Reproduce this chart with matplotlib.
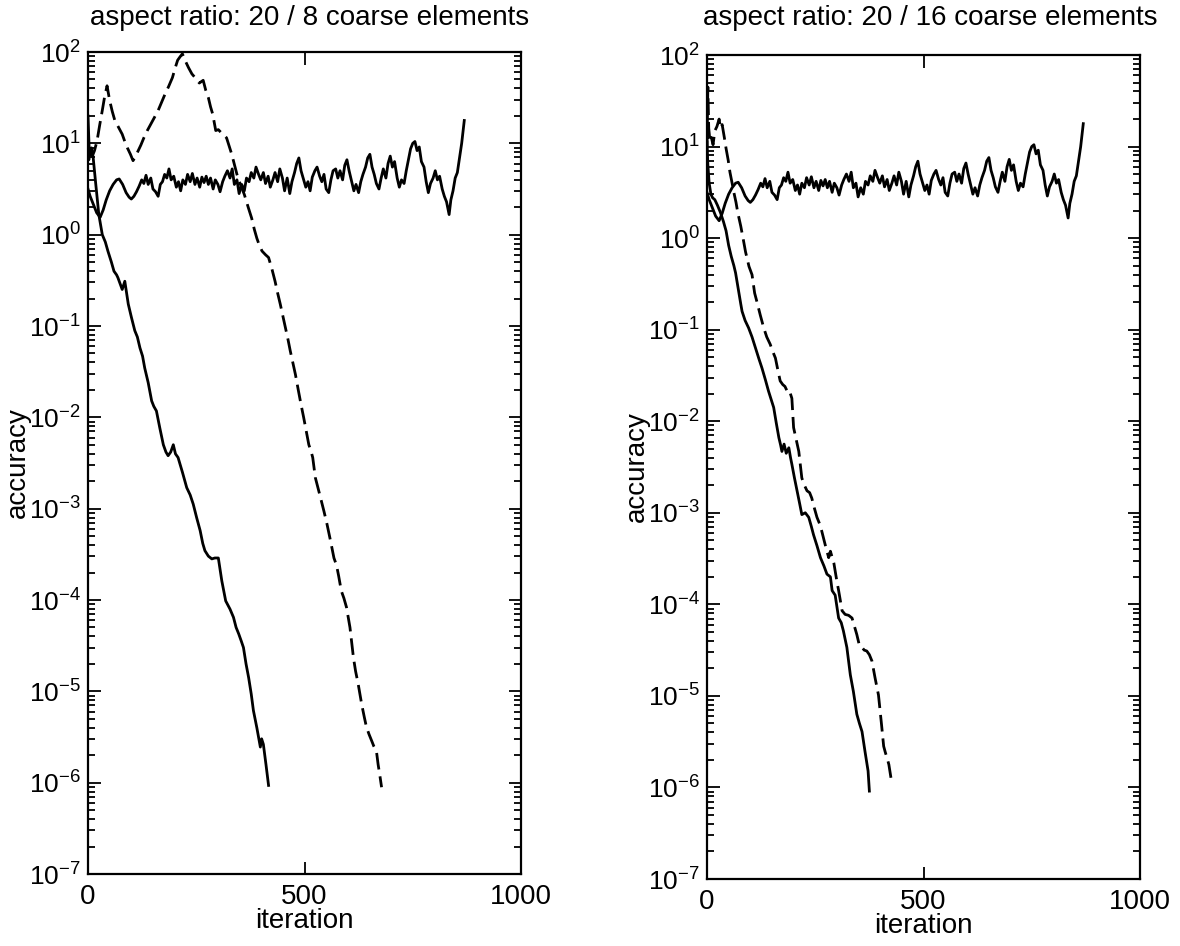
import matplotlib
matplotlib.use("Agg", force=True)
import matplotlib.pyplot as plt
from matplotlib.ticker import FixedLocator, NullFormatter
import numpy as np

plt.rcParams['font.family'] = ['Liberation Sans', 'DejaVu Sans']
plt.rcParams['mathtext.default'] = 'regular'
plt.rcParams['axes.unicode_minus'] = False

# --- data (iteration, log10 of accuracy) ---
# stagnating run, same in both panels
stag_iter = [0, 5, 10, 15, 20, 28, 35, 42, 50, 58, 66, 72, 80, 88, 95, 100, 106, 112, 118, 124,
             129, 134, 139, 145, 150, 156, 162, 167, 172, 177, 182, 187, 192, 198, 204, 209, 214,
             219, 225, 230, 236, 241, 247, 252, 258, 263, 268, 273, 278, 283, 289, 294, 300, 305,
             311, 316, 322, 328, 333, 338, 344, 349, 355, 361, 366, 372, 377, 383, 388, 394, 399,
             405, 410, 416, 421, 427, 432, 438, 443, 449, 454, 460, 466, 471, 477, 482, 487, 492,
             497, 503, 508, 513, 518, 524, 529, 535, 540, 545, 550, 556, 561, 566, 572, 577, 582,
             588, 593, 598, 603, 608, 614, 619, 625, 630, 635, 641, 646, 651, 656, 661, 666, 672,
             677, 682, 688, 693, 698, 703, 708, 714, 719, 724, 730, 735, 740, 745, 750, 755, 760,
             765, 770, 776, 781, 786, 791, 797, 802, 807, 812, 818, 823, 828, 834, 838, 843, 848,
             853, 858, 863, 866, 869]
stag_exp = [0.50, 0.42, 0.36, 0.30, 0.24, 0.19, 0.27, 0.38, 0.48, 0.55, 0.60, 0.61, 0.55, 0.46,
            0.41, 0.39, 0.42, 0.47, 0.53, 0.60, 0.56, 0.65, 0.55, 0.62, 0.50, 0.47, 0.42, 0.55,
            0.58, 0.66, 0.62, 0.72, 0.60, 0.64, 0.52, 0.58, 0.48, 0.60, 0.55, 0.66, 0.58, 0.67,
            0.55, 0.62, 0.52, 0.63, 0.57, 0.64, 0.55, 0.62, 0.50, 0.60, 0.55, 0.47, 0.58, 0.64,
            0.70, 0.62, 0.72, 0.55, 0.60, 0.45, 0.55, 0.48, 0.62, 0.58, 0.68, 0.62, 0.74, 0.66,
            0.60, 0.68, 0.56, 0.64, 0.52, 0.60, 0.68, 0.58, 0.72, 0.62, 0.48, 0.62, 0.45, 0.58,
            0.68, 0.78, 0.84, 0.70, 0.62, 0.52, 0.58, 0.48, 0.63, 0.70, 0.74, 0.64, 0.58, 0.66,
            0.50, 0.46, 0.60, 0.70, 0.72, 0.62, 0.70, 0.60, 0.76, 0.82, 0.70, 0.60, 0.48, 0.55,
            0.46, 0.58, 0.66, 0.74, 0.84, 0.88, 0.74, 0.66, 0.56, 0.50, 0.62, 0.72, 0.62, 0.78,
            0.86, 0.74, 0.80, 0.62, 0.52, 0.60, 0.56, 0.70, 0.82, 0.94, 1.00, 1.02, 0.92, 0.96,
            0.80, 0.74, 0.58, 0.46, 0.56, 0.62, 0.70, 0.60, 0.64, 0.50, 0.42, 0.36, 0.22, 0.38,
            0.48, 0.62, 0.68, 0.84, 1.00, 1.12, 1.25]

# left panel, 20 / 8 coarse elements
left_solid_iter = [0, 3, 8, 12, 18, 25, 33, 40, 46, 54, 60, 66, 69, 79, 85, 93, 100, 108, 114, 120,
                   126, 131, 139, 147, 152, 158, 166, 174, 180, 185, 191, 197, 202, 208, 218, 228,
                   236, 243, 251, 259, 265, 270, 278, 286, 293, 301, 309, 318, 328, 336, 342, 348,
                   354, 359, 365, 371, 377, 382, 390, 398, 401, 405, 411, 417]
left_solid_exp = [1.30, 0.90, 0.95, 0.84, 0.55, 0.22, 0.00, -0.08, -0.18, -0.30, -0.40, -0.44,
                  -0.47, -0.60, -0.51, -0.76, -0.90, -1.05, -1.12, -1.24, -1.33, -1.46, -1.62,
                  -1.82, -1.88, -1.93, -2.12, -2.30, -2.38, -2.42, -2.38, -2.30, -2.40, -2.44,
                  -2.60, -2.77, -2.85, -2.95, -3.10, -3.24, -3.38, -3.46, -3.52, -3.55, -3.54,
                  -3.54, -3.79, -4.01, -4.10, -4.19, -4.30, -4.37, -4.45, -4.52, -4.70, -4.85,
                  -5.03, -5.21, -5.40, -5.61, -5.52, -5.58, -5.80, -6.03]
left_dash_iter = [0, 2, 5, 10, 15, 21, 27, 33, 38, 44, 47, 50, 56, 62, 70, 79, 85, 91, 98, 104,
                  110, 116, 122, 129, 137, 145, 153, 162, 170, 178, 186, 195, 201, 207, 213, 218,
                  225, 232, 240, 249, 257, 266, 272, 278, 283, 288, 295, 301, 307, 314, 320, 326,
                  332, 338, 344, 352, 361, 370, 378, 384, 390, 396, 402, 410, 417, 425, 432, 438,
                  444, 450, 456, 462, 467, 473, 479, 486, 492, 498, 504, 510, 515, 519, 525, 531,
                  537, 545, 552, 560, 568, 574, 579, 585, 591, 597, 605, 613, 618, 624, 632, 638,
                  643, 649, 655, 660, 666, 670, 674, 678]
left_dash_exp = [0.90, 0.82, 0.95, 0.86, 0.92, 1.03, 1.20, 1.36, 1.50, 1.63, 1.55, 1.47, 1.35,
                 1.25, 1.18, 1.10, 1.02, 0.95, 0.88, 0.81, 0.86, 0.92, 0.98, 1.06, 1.14, 1.21,
                 1.28, 1.36, 1.45, 1.54, 1.62, 1.72, 1.82, 1.91, 1.95, 1.98, 1.90, 1.83, 1.76,
                 1.71, 1.66, 1.69, 1.58, 1.50, 1.40, 1.32, 1.14, 1.15, 1.12, 1.09, 1.06, 0.97,
                 0.88, 0.77, 0.66, 0.55, 0.44, 0.30, 0.18, 0.06, -0.04, -0.12, -0.18, -0.22,
                 -0.25, -0.38, -0.51, -0.64, -0.76, -0.89, -1.02, -1.15, -1.27, -1.40, -1.53,
                 -1.71, -1.86, -2.00, -2.15, -2.30, -2.37, -2.44, -2.66, -2.77, -2.88, -3.03,
                 -3.17, -3.35, -3.54, -3.62, -3.74, -3.90, -3.98, -4.08, -4.30, -4.63, -4.78,
                 -4.92, -5.14, -5.28, -5.39, -5.47, -5.54, -5.60, -5.65, -5.80, -5.92, -6.05]

# right panel, 20 / 16 coarse elements
right_solid_iter = [0, 2, 5, 9, 13, 18, 24, 31, 38, 44, 50, 56, 62, 66, 72, 78, 81, 88, 96, 104,
                    112, 120, 127, 135, 142, 148, 154, 160, 166, 170, 173, 178, 183, 189, 193,
                    196, 202, 208, 214, 219, 227, 235, 241, 246, 254, 262, 270, 277, 285, 289,
                    296, 304, 310, 315, 323, 331, 338, 346, 352, 358, 365, 372, 375]
right_solid_exp = [1.05, 0.80, 0.60, 0.48, 0.44, 0.42, 0.36, 0.28, 0.18, 0.08, -0.08, -0.20,
                   -0.30, -0.38, -0.55, -0.72, -0.80, -0.90, -0.98, -1.08, -1.20, -1.32, -1.42,
                   -1.55, -1.67, -1.76, -1.85, -2.02, -2.18, -2.26, -2.33, -2.25, -2.35, -2.29,
                   -2.40, -2.47, -2.62, -2.76, -2.90, -3.02, -3.00, -3.05, -3.15, -3.24, -3.36,
                   -3.49, -3.58, -3.67, -3.70, -3.85, -3.90, -4.15, -4.20, -4.29, -4.47, -4.77,
                   -4.95, -5.20, -5.30, -5.39, -5.61, -5.82, -6.04]
right_dash_iter = [0, 2, 4, 7, 10, 14, 18, 23, 28, 31, 35, 40, 44, 49, 53, 58, 62, 67, 71, 78,
                   84, 89, 97, 104, 110, 115, 123, 131, 138, 146, 152, 158, 164, 169, 175, 180,
                   185, 190, 196, 200, 206, 212, 219, 225, 231, 237, 242, 248, 254, 260, 265,
                   273, 281, 285, 293, 300, 304, 312, 319, 327, 335, 346, 352, 358, 363, 369,
                   375, 381, 388, 396, 403, 408, 412, 416, 420, 425]
right_dash_exp = [1.00, 1.65, 1.20, 1.05, 1.10, 1.02, 1.17, 1.22, 1.30, 1.20, 1.24, 1.10, 0.98,
                  0.85, 0.72, 0.60, 0.50, 0.39, 0.28, 0.13, -0.02, -0.15, -0.31, -0.40, -0.60,
                  -0.69, -0.84, -0.98, -1.08, -1.16, -1.24, -1.31, -1.45, -1.56, -1.60, -1.62,
                  -1.67, -1.66, -1.75, -2.07, -2.20, -2.33, -2.62, -2.70, -2.76, -2.78, -2.84,
                  -2.95, -3.05, -3.12, -3.20, -3.35, -3.49, -3.42, -3.55, -3.75, -3.85, -4.07,
                  -4.11, -4.12, -4.15, -4.33, -4.45, -4.47, -4.50, -4.51, -4.55, -4.62, -4.80,
                  -4.99, -5.31, -5.55, -5.62, -5.68, -5.75, -5.90]

titles = ["aspect ratio: 20 / 8 coarse elements", "aspect ratio: 20 / 16 coarse elements"]
x_ticks = [0, 500, 1000]
y_decades = [-7, -6, -5, -4, -3, -2, -1, 0, 1, 2]

panels = [
    (left_solid_iter, left_solid_exp, left_dash_iter, left_dash_exp),
    (right_solid_iter, right_solid_exp, right_dash_iter, right_dash_exp),
]
rects = [
    [88 / 1180, 1 - 874 / 946, 433 / 1180, 822 / 946],
    [707 / 1180, 1 - 879 / 946, 433 / 1180, 824 / 946],
]
title_x = [0.262, 0.788]

major_y = [10.0 ** d for d in y_decades]
minor_y = [m * 10.0 ** d for d in y_decades[:-1] for m in range(2, 10)]
ytick_labels = ['$10^{%d}$' % d for d in y_decades]

fig = plt.figure(figsize=(11.8, 9.46), dpi=100)
lw = 2.0
fs = 20

for idx, (s_it, s_ex, d_it, d_ex) in enumerate(panels):
    ax = fig.add_axes(rects[idx])
    ax.plot(stag_iter, 10.0 ** np.array(stag_exp), color='black', lw=lw)
    ax.plot(s_it, 10.0 ** np.array(s_ex), color='black', lw=lw)
    ax.plot(d_it, 10.0 ** np.array(d_ex), color='black', lw=lw, linestyle=(0, (6, 2.5)))

    ax.set_yscale('log')
    ax.set_xlim(0, 1000)
    ax.set_ylim(1e-7, 1e2)
    ax.xaxis.set_major_locator(FixedLocator(x_ticks))
    ax.yaxis.set_major_locator(FixedLocator(major_y))
    ax.yaxis.set_minor_locator(FixedLocator(minor_y))
    ax.yaxis.set_minor_formatter(NullFormatter())
    ax.set_yticklabels(ytick_labels)

    ax.tick_params(which='both', direction='in', top=True, right=True, width=1.3)
    ax.tick_params(axis='x', labelsize=fs)
    ax.tick_params(axis='y', labelsize=19)
    ax.tick_params(which='major', length=9)
    ax.tick_params(which='minor', length=5)
    ax.tick_params(axis='x', which='major', pad=7)
    ax.tick_params(axis='y', which='major', pad=5)
    for sp in ax.spines.values():
        sp.set_linewidth(1.6)

    ax.set_xlabel('iteration', fontsize=fs, labelpad=-1)
    ax.set_ylabel('accuracy', fontsize=fs, va='center')
    ax.yaxis.set_label_coords(-0.162, 0.5)
    fig.text(title_x[idx], 0.981, titles[idx], fontsize=20, ha='center', va='center')

fig.savefig('out.png', dpi=100)
